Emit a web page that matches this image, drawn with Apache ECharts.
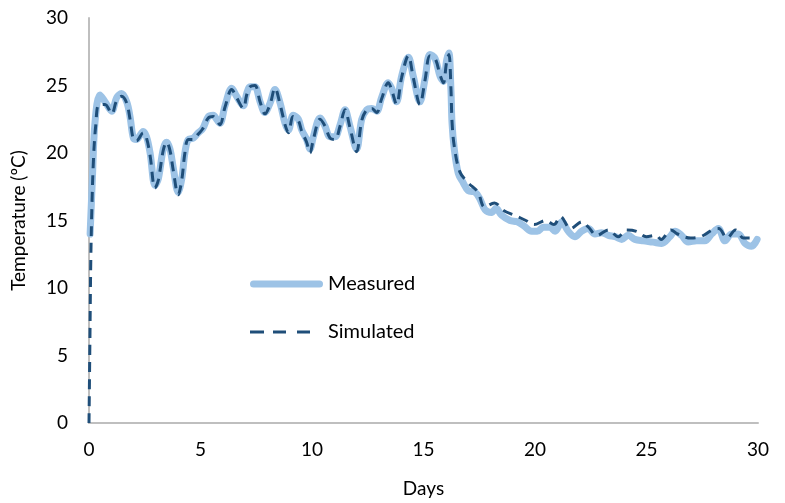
<!DOCTYPE html>
<html>
<head>
<meta charset="utf-8">
<script src="https://cdn.jsdelivr.net/npm/echarts@6/dist/echarts.min.js"></script>
<style>html,body{margin:0;padding:0;background:#fff;}#c{width:785px;height:503px;}</style>
</head>
<body>
<div id="c"></div>
<script>
const xTicks = [0, 5, 10, 15, 20, 25, 30];
const yTicks = [0, 5, 10, 15, 20, 25, 30];

const measDays = [0.05,0.15,0.27,0.49,0.72,1.02,1.24,1.46,1.69,1.84,1.99,2.13,2.43,2.58,2.74,2.96,3.11,3.33,3.48,3.63,3.78,4.0,4.16,4.30,4.45,4.68,4.90,5.1,5.35,5.57,5.72,5.87,6.10,6.40,6.62,6.92,7.07,7.22,7.44,7.67,7.89,8.12,8.34,8.57,8.79,8.94,9.16,9.39,9.54,9.76,9.91,10.06,10.36,10.58,10.81,11.03,11.26,11.48,11.70,12.00,12.23,12.45,12.68,12.90,13.12,13.42,13.57,13.79,14.02,14.32,14.54,14.84,15.07,15.29,15.52,15.74,15.89,16.04,16.14,16.23,16.28,16.38,16.56,16.78,17.01,17.31,17.53,17.76,18.05,18.25,18.50,18.88,19.2,19.5,19.85,20.1,20.37,20.67,20.90,21.20,21.49,21.79,22.09,22.39,22.69,22.99,23.29,23.59,23.89,24.18,24.48,24.86,25.30,25.68,26.05,26.28,26.57,26.87,27.25,27.62,27.92,28.22,28.52,28.82,29.12,29.42,29.71,29.96];
const measTemps = [14.0,18.0,22.3,24.3,23.8,23.1,24.1,24.4,23.8,22.7,21.1,21.0,21.6,21.2,20.0,17.6,18.1,20.3,20.8,20.3,18.9,17.1,18.1,20.0,21.0,21.1,21.5,21.8,22.7,22.8,22.5,22.2,23.5,24.8,24.2,23.5,24.4,24.9,24.9,23.8,23.0,23.7,24.7,23.7,22.2,21.7,22.8,22.5,21.7,21.0,20.3,21.2,22.6,22.0,21.2,21.2,22.1,23.2,22.0,20.3,22.5,23.2,23.3,23.1,24.1,25.2,24.8,23.8,25.7,27.1,25.7,23.8,25.5,27.3,27.0,25.7,25.3,26.9,27.4,24.7,22.2,20.3,18.5,17.8,17.2,17.1,16.6,15.8,15.6,15.9,15.4,15.0,14.9,14.6,14.2,14.2,14.5,14.5,14.2,14.9,14.2,13.8,14.2,14.4,14.0,14.1,13.9,13.8,13.6,13.9,13.6,13.5,13.4,13.3,13.8,14.2,13.9,13.4,13.5,13.5,14.0,14.4,13.5,14.0,14.0,13.3,13.1,13.6];

const simDays = [0,0.04,0.08,0.13,0.2,0.3,0.45,0.72,1.02,1.24,1.46,1.69,1.84,1.99,2.13,2.43,2.58,2.74,2.96,3.11,3.33,3.48,3.63,3.78,4.0,4.16,4.30,4.45,4.68,4.90,5.1,5.35,5.57,5.72,5.87,6.10,6.40,6.62,6.92,7.07,7.22,7.44,7.67,7.89,8.12,8.34,8.57,8.79,8.94,9.16,9.39,9.54,9.76,9.91,10.06,10.36,10.58,10.81,11.03,11.26,11.48,11.70,12.00,12.23,12.45,12.68,12.90,13.12,13.42,13.57,13.79,14.02,14.32,14.54,14.84,15.07,15.29,15.52,15.74,15.89,16.04,16.14,16.23,16.28,16.38,16.63,17.0,17.44,17.74,18.18,18.63,19.07,19.59,19.96,20.48,20.85,21.14,21.59,22.11,22.40,22.77,23.29,23.73,24.10,24.55,24.99,25.43,25.65,26.10,26.39,26.98,27.43,27.95,28.24,28.61,28.99,29.35,29.73,29.87];
const simTemps = [0,6,12,16,19.5,22,23.6,23.6,22.9,23.9,24.2,23.7,22.5,21.0,20.9,21.5,21.1,19.8,17.4,18.0,20.2,20.8,20.2,18.7,16.9,18.0,20.0,21.0,21.0,21.4,21.8,22.6,22.7,22.4,22.1,23.4,24.7,24.1,23.3,24.3,24.9,25.0,23.8,22.9,23.6,24.8,23.6,22.1,21.5,22.7,22.4,21.6,20.8,20.0,21.0,22.5,22.0,21.1,21.0,22.0,23.2,21.9,20.1,22.4,23.2,23.3,23.0,24.0,25.2,24.7,23.6,25.6,27.2,25.6,23.6,25.4,27.2,27.0,25.8,25.2,26.8,27.3,24.8,22.3,20.5,18.6,17.8,17.1,16.0,16.3,15.7,15.4,15.0,14.7,15.0,14.7,15.3,14.4,14.9,14.5,13.9,14.3,13.8,14.3,14.2,13.8,13.9,13.6,14.3,14.0,13.7,13.8,14.3,14.4,13.7,14.3,13.7,13.7,13.8];

const FONT = 'Lato';
const MEAS_COLOR = '#9DC3E6';
const SIM_COLOR = '#1F4E79';
const chart = echarts.init(document.getElementById('c'), null, {renderer: 'canvas'});
chart.setOption({
  animation: false,
  backgroundColor: '#ffffff',
  textStyle: {fontFamily: FONT, color: '#000'},
  grid: {left: 89, right: 27, top: 18, bottom: 78, containLabel: false},
  legend: [
    {
      left: 245, top: 269, itemWidth: 73, itemHeight: 7, symbolKeepAspect: false,
      itemStyle: {borderWidth: 0},
      textStyle: {fontFamily: FONT, fontSize: 20, color: '#000'},
      data: [{name: 'Measured', icon: 'path://M3.5,0h66a3.5,3.5 0 0 1 0,7h-66a3.5,3.5 0 0 1 0,-7z', itemStyle: {color: MEAS_COLOR}}]
    },
    {
      left: 245, top: 317, itemWidth: 60, itemHeight: 3, symbolKeepAspect: false,
      itemStyle: {borderWidth: 0},
      textStyle: {fontFamily: FONT, fontSize: 20, color: '#000', padding: [0, 0, 0, 13]},
      data: [{name: 'Simulated', icon: 'path://M0,0h14v3h-14zM23,0h13v3h-13zM47,0h13v3h-13z', itemStyle: {color: SIM_COLOR}}]
    }
  ],
  xAxis: {
    type: 'value', min: xTicks[0], max: xTicks[xTicks.length - 1], interval: 5,
    name: 'Days', nameLocation: 'middle', nameGap: 56,
    nameTextStyle: {fontFamily: FONT, fontSize: 19, color: '#000'},
    axisLine: {show: true, lineStyle: {color: '#BFBFBF', width: 2}},
    axisTick: {show: false}, splitLine: {show: false},
    axisLabel: {fontFamily: FONT, fontSize: 19, color: '#000', margin: 17}
  },
  yAxis: {
    type: 'value', min: yTicks[0], max: yTicks[yTicks.length - 1], interval: 5,
    name: 'Temperature (ºC)', nameLocation: 'middle', nameGap: 61, nameRotate: 90,
    nameTextStyle: {fontFamily: FONT, fontSize: 19, color: '#000'},
    axisLine: {show: true, lineStyle: {color: '#BFBFBF', width: 2}},
    axisTick: {show: false}, splitLine: {show: false},
    axisLabel: {fontFamily: FONT, fontSize: 19, color: '#000', margin: 21}
  },
  series: [
    {
      name: 'Measured', type: 'line', symbol: 'none', showSymbol: false, smooth: 0.35,
      data: measDays.map((d, i) => [d, measTemps[i]]),
      lineStyle: {color: MEAS_COLOR, width: 7, cap: 'round', join: 'round'},
      itemStyle: {color: MEAS_COLOR}
    },
    {
      name: 'Simulated', type: 'line', symbol: 'none', showSymbol: false, smooth: 0.35,
      data: simDays.map((d, i) => [d, simTemps[i]]),
      lineStyle: {color: SIM_COLOR, width: 3, type: [10, 7]},
      itemStyle: {color: SIM_COLOR}
    }
  ]
});
</script>
</body>
</html>
